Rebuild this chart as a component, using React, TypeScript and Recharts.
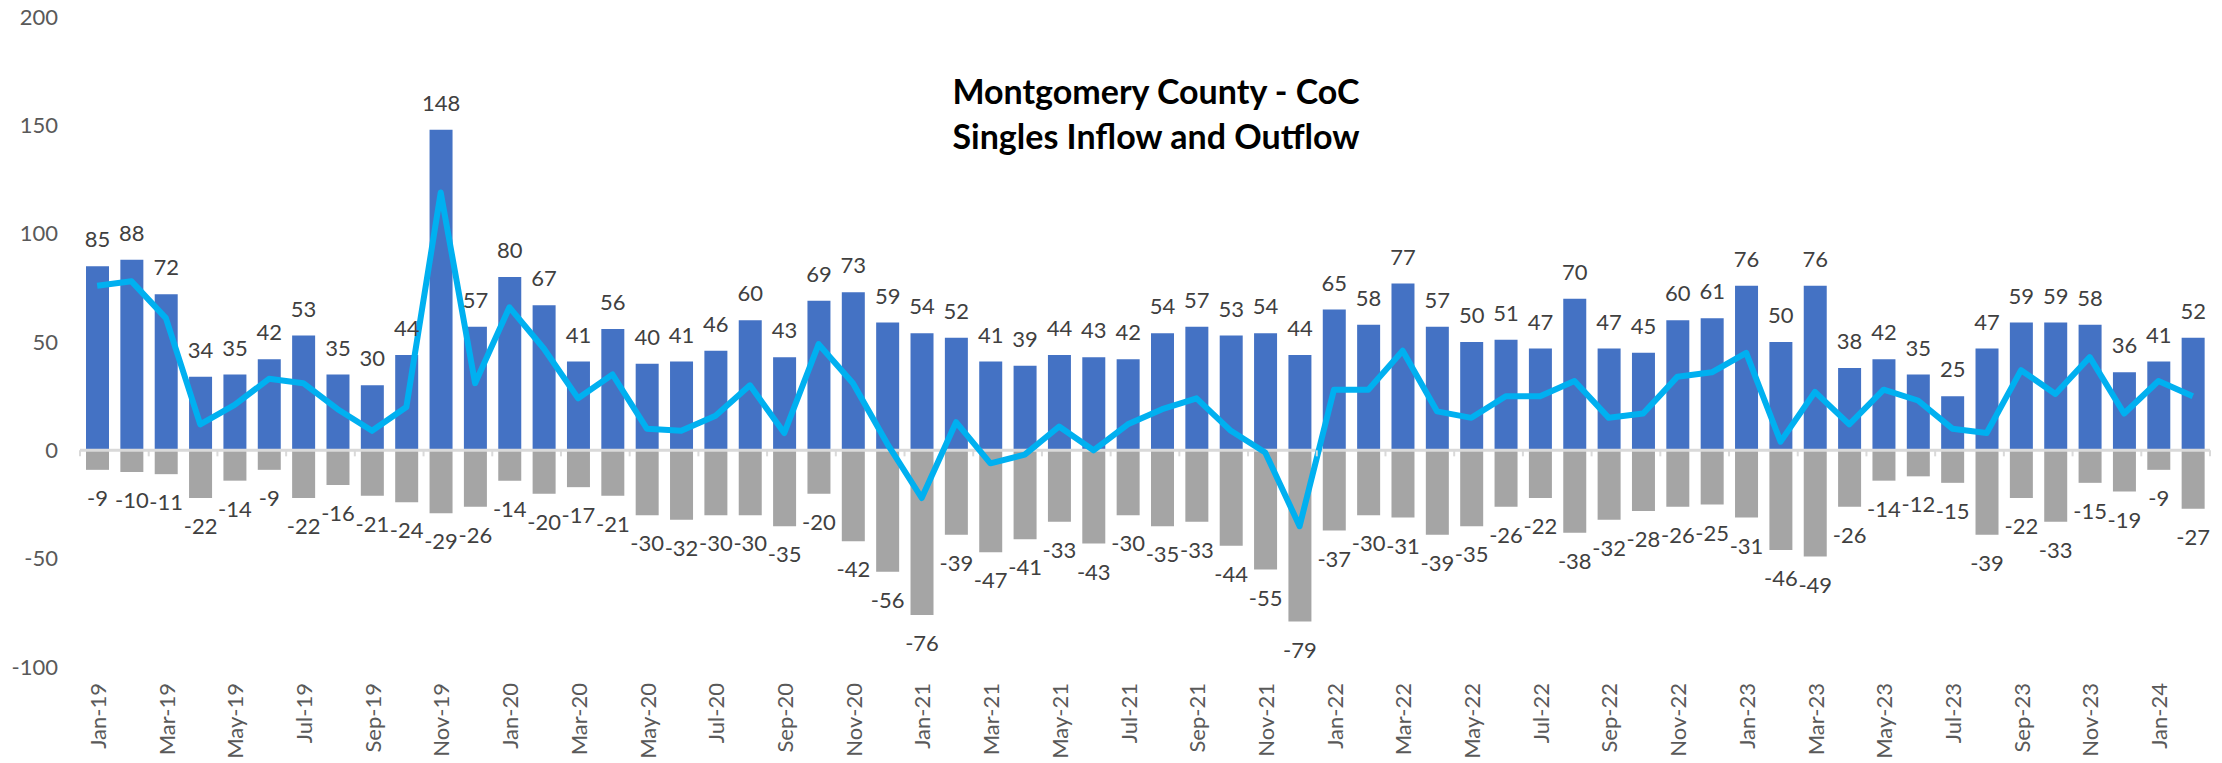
import { ComposedChart, Bar, Line, XAxis, YAxis, ReferenceLine, LabelList } from "recharts";

const months = [
  "Jan-19", "Feb-19", "Mar-19", "Apr-19", "May-19", "Jun-19", "Jul-19", "Aug-19", "Sep-19", "Oct-19", "Nov-19", "Dec-19",
  "Jan-20", "Feb-20", "Mar-20", "Apr-20", "May-20", "Jun-20", "Jul-20", "Aug-20", "Sep-20", "Oct-20", "Nov-20", "Dec-20",
  "Jan-21", "Feb-21", "Mar-21", "Apr-21", "May-21", "Jun-21", "Jul-21", "Aug-21", "Sep-21", "Oct-21", "Nov-21", "Dec-21",
  "Jan-22", "Feb-22", "Mar-22", "Apr-22", "May-22", "Jun-22", "Jul-22", "Aug-22", "Sep-22", "Oct-22", "Nov-22", "Dec-22",
  "Jan-23", "Feb-23", "Mar-23", "Apr-23", "May-23", "Jun-23", "Jul-23", "Aug-23", "Sep-23", "Oct-23", "Nov-23", "Dec-23",
  "Jan-24", "Feb-24",
];

const inflow = [
  85, 88, 72, 34, 35, 42, 53, 35, 30, 44, 148, 57,
  80, 67, 41, 56, 40, 41, 46, 60, 43, 69, 73, 59,
  54, 52, 41, 39, 44, 43, 42, 54, 57, 53, 54, 44,
  65, 58, 77, 57, 50, 51, 47, 70, 47, 45, 60, 61,
  76, 50, 76, 38, 42, 35, 25, 47, 59, 59, 58, 36,
  41, 52,
];

const outflow = [
  -9, -10, -11, -22, -14, -9, -22, -16, -21, -24, -29, -26,
  -14, -20, -17, -21, -30, -32, -30, -30, -35, -20, -42, -56,
  -76, -39, -47, -41, -33, -43, -30, -35, -33, -44, -55, -79,
  -37, -30, -31, -39, -35, -26, -22, -38, -32, -28, -26, -25,
  -31, -46, -49, -26, -14, -12, -15, -39, -22, -33, -15, -19,
  -9, -27,
];

const net = [
  76, 78, 61, 12, 21, 33, 31, 19, 9, 20, 119, 31,
  66, 47, 24, 35, 10, 9, 16, 30, 8, 49, 31, 3,
  -22, 13, -6, -2, 11, 0, 12, 19, 24, 9, -1, -35,
  28, 28, 46, 18, 15, 25, 25, 32, 15, 17, 34, 36,
  45, 4, 27, 12, 28, 23, 10, 8, 37, 26, 43, 17,
  32, 25,
];

const yTicks = [-100, -50, 0, 50, 100, 150, 200];

const data = months.map((m, i) => ({ month: m, inflow: inflow[i], outflow: outflow[i], net: net[i] }));

const W = 2222;
const H = 763;
const TOP = 17;
const X_AXIS_H = 96;
const Y_AXIS_W = 80;
const RIGHT = 12;
const Y_MIN = -100;
const Y_MAX = 200;
const PLOT_H = H - TOP - X_AXIS_H;
const ZERO_Y = TOP + (PLOT_H * Y_MAX) / (Y_MAX - Y_MIN);
const STEP = (W - Y_AXIS_W - RIGHT) / months.length;

const FONT = "Lato, 'Noto Sans', sans-serif";
const AXIS_COLOR = "#d9d9d9";
const TEXT_COLOR = "#595959";

const MonthTick = (props: any) => {
  const { x, y, payload } = props;
  const i = payload?.index ?? props.index ?? 0;
  const half = payload?.offset || STEP / 2;
  return (
    <g>
      {i % 2 === 0 && (
        <line x1={x - half} x2={x - half} y1={ZERO_Y} y2={ZERO_Y + 6} stroke={AXIS_COLOR} strokeWidth={2} />
      )}
      {i === months.length - 1 && (
        <line x1={x + half} x2={x + half} y1={ZERO_Y} y2={ZERO_Y + 6} stroke={AXIS_COLOR} strokeWidth={2} />
      )}
      {i % 2 === 0 && (
        <text
          transform={`translate(${x + 1},${y}) rotate(-90)`}
          textAnchor="end"
          dy="0.35em"
          fontSize={22}
          fontFamily={FONT}
          fill={TEXT_COLOR}
        >
          {payload.value}
        </text>
      )}
    </g>
  );
};

const BarValue = (props: any) => {
  const vb = props.viewBox ?? {};
  const x = props.x ?? vb.x;
  const y = props.y ?? vb.y;
  const width = props.width ?? vb.width;
  const height = props.height ?? vb.height;
  const value = props.value;
  if (x == null || y == null) return null;
  const top = Math.min(y, y + height);
  const bottom = Math.max(y, y + height);
  const cx = x + width / 2;
  const ty = value < 0 ? bottom + 36 : top - 19;
  return (
    <text x={cx} y={ty} textAnchor="middle" fontSize={22} fontFamily={FONT} fill="#404040">
      {value}
    </text>
  );
};

export default function App() {
  return (
    <div style={{ position: "relative", width: W, height: H, marginLeft: -8, marginTop: -8, background: "#fff" }}>
      <div
        style={{
          position: "absolute",
          left: 6,
          top: 8,
          width: 2,
          height: H - 8,
          background: AXIS_COLOR,
        }}
      />
      <div
        style={{
          position: "absolute",
          left: 856,
          width: 600,
          top: 68,
          textAlign: "center",
          fontFamily: FONT,
          fontWeight: 700,
          fontSize: 34,
          lineHeight: "45px",
          color: "#000",
          zIndex: 2,
        }}
      >
        Montgomery County - CoC
        <br />
        Singles Inflow and Outflow
      </div>
      <ComposedChart
        width={W}
        height={H}
        data={data}
        stackOffset="sign"
        margin={{ top: TOP, right: RIGHT, bottom: 0, left: 0 }}
      >
        <XAxis
          dataKey="month"
          interval={0}
          height={X_AXIS_H}
          axisLine={false}
          tickLine={false}
          tickSize={0}
          tickMargin={16}
          tick={<MonthTick />}
        />
        <YAxis
          domain={[Y_MIN, Y_MAX]}
          ticks={yTicks}
          width={Y_AXIS_W}
          axisLine={false}
          tickLine={false}
          tickSize={0}
          tickMargin={22}
          tick={{ fontSize: 22, fontFamily: FONT, fill: TEXT_COLOR }}
        />
        <Bar dataKey="inflow" stackId="a" fill="#4472c4" barSize={23} isAnimationActive={false}>
          <LabelList dataKey="inflow" content={<BarValue />} />
        </Bar>
        <Bar dataKey="outflow" stackId="a" fill="#a5a5a5" barSize={23} isAnimationActive={false}>
          <LabelList dataKey="outflow" content={<BarValue />} />
        </Bar>
        <ReferenceLine y={0} stroke={AXIS_COLOR} strokeWidth={3} />
        <Line
          dataKey="net"
          type="linear"
          stroke="#00b0f0"
          strokeWidth={6}
          dot={false}
          strokeLinejoin="round"
          isAnimationActive={false}
        />
      </ComposedChart>
    </div>
  );
}
